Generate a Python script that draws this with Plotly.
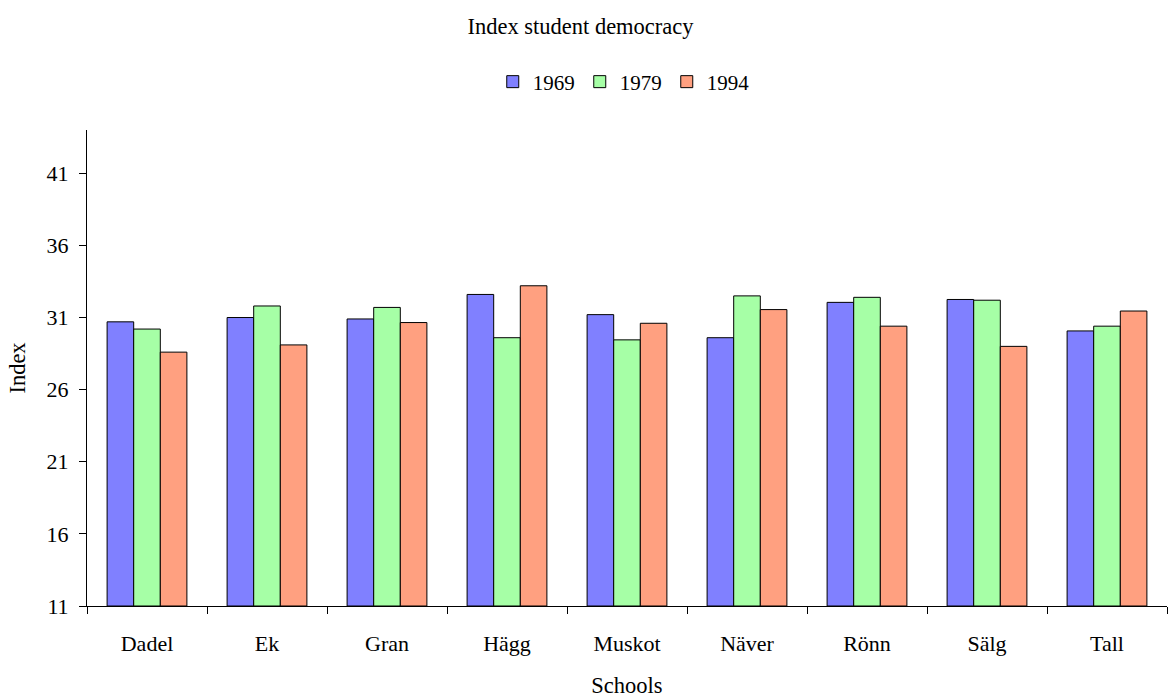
import plotly.graph_objects as go

schools = ["Dadel", "Ek", "Gran", "Hägg", "Muskot", "Näver", "Rönn", "Sälg", "Tall"]
years = ["1969", "1979", "1994"]
v1969 = [30.7, 31.0, 30.9, 32.6, 31.2, 29.6, 32.05, 32.25, 30.07]
v1979 = [30.2, 31.8, 31.7, 29.6, 29.45, 32.5, 32.4, 32.2, 30.4]
v1994 = [28.6, 29.1, 30.65, 33.2, 30.6, 31.55, 30.4, 29.0, 31.45]
colors = ["#8080FF", "#A6FFA6", "#FFA080"]
yticks = [11, 16, 21, 26, 31, 36, 41]

font = "Liberation Serif"
fig = go.Figure()
for name, vals, col in zip(years, [v1969, v1979, v1994], colors):
    fig.add_trace(go.Bar(
        x=schools, y=[v - 11 for v in vals], base=11, name=name,
        marker=dict(color=col, line=dict(color="#000000", width=1)),
    ))

fig.update_layout(
    width=1168, height=698,
    margin=dict(l=87, r=1, t=130, b=92),
    paper_bgcolor="white", plot_bgcolor="white",
    barmode="group", bargap=0.335, bargroupgap=0,
    font=dict(family=font, size=22, color="#000000"),
    title=dict(text="Index student democracy", x=0.497, xanchor="center",
               y=1 - 26 / 698, yanchor="middle", font=dict(family=font, size=22.5)),
    legend=dict(orientation="h", x=0.497, xanchor="center", y=1 - 82 / 698,
                yref="container", yanchor="middle", font=dict(family=font, size=21),
                itemwidth=30, traceorder="normal"),
    xaxis=dict(
        type="category", tickson="boundaries", ticks="outside", ticklen=7,
        tickcolor="#000000", showline=True, linecolor="#000000", linewidth=1,
        showgrid=False, ticklabelstandoff=18, tickfont=dict(family=font, size=22),
        title=dict(text="Schools", standoff=24, font=dict(family=font, size=22.5)),
    ),
    yaxis=dict(
        range=[11, 44], tickvals=yticks, ticktext=[str(t) for t in yticks],
        ticks="outside", ticklen=7, tickcolor="#000000", showline=True,
        linecolor="#000000", linewidth=1, showgrid=False, zeroline=False,
        ticklabelstandoff=6, tickfont=dict(family=font, size=22),
        title=dict(text="Index", standoff=14, font=dict(family=font, size=22.5)),
    ),
)
fig.write_html("out.html")
